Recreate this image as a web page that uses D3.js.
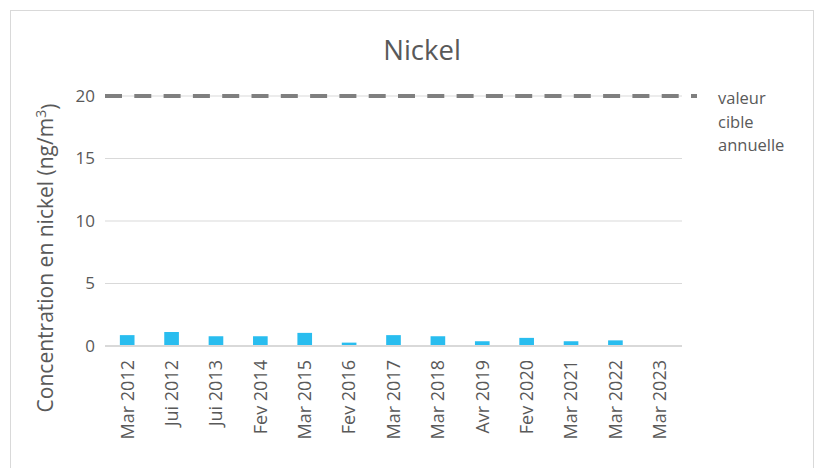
<!DOCTYPE html>
<meta charset="utf-8">
<html lang="fr">
<head>
    <title>Nickel</title>
    <script src="https://d3js.org/d3.v7.min.js"></script>
    <style>
        body { margin: 0; background: #fff; }
        svg text { font-family: "Open Sans", "Noto Sans", sans-serif; fill: #595959; }
    </style>
</head>
<body>
<div id="chart"></div>
<script>
// data
var categories = ["Mar 2012", "Jui 2012", "Jui 2013", "Fev 2014", "Mar 2015", "Fev 2016",
                  "Mar 2017", "Mar 2018", "Avr 2019", "Fev 2020", "Mar 2021", "Mar 2022", "Mar 2023"];
var nickel = [0.87, 1.12, 0.78, 0.78, 1.05, 0.27, 0.87, 0.78, 0.38, 0.65, 0.38, 0.45, null];
var targetValue = [20];
var yTicks = [0, 5, 10, 15, 20];
var legendLines = ["valeur", "cible", "annuelle"];

var W = 826, H = 468;
var margin = {top: 96, right: 144, bottom: 122, left: 105};
var width = W - margin.left - margin.right,   // 577
    height = H - margin.top - margin.bottom;  // 250

var svg = d3.select("#chart").append("svg")
    .attr("width", W).attr("height", H);

// chart border
svg.append("rect")
    .attr("x", 10.5).attr("y", 10.5)
    .attr("width", 803).attr("height", 470)
    .attr("fill", "#fff").attr("stroke", "#d9d9d9");

var g = svg.append("g")
    .attr("transform", "translate(" + margin.left + "," + margin.top + ")");

var x = d3.scaleBand().domain(categories).range([0, width]).paddingInner(0.67).paddingOuter(0.335);
var y = d3.scaleLinear().domain([0, 20]).range([height, 0]);

// gridlines
g.selectAll(".grid").data(yTicks.slice(1)).enter().append("line")
    .attr("x1", 0).attr("x2", width)
    .attr("y1", function(d) { return y(d); }).attr("y2", function(d) { return y(d); })
    .attr("stroke", "#d9d9d9").attr("stroke-width", 1);

// y tick labels
var yAxis = g.append("g").call(d3.axisLeft(y).tickValues(yTicks).tickSize(0).tickPadding(10));
yAxis.select(".domain").remove();
yAxis.selectAll("text").style("font-size", "17px").attr("fill", "#595959");

// bars
g.selectAll(".bar").data(categories.map(function(c, i) { return {c: c, v: nickel[i]}; })
        .filter(function(d) { return d.v != null; }))
    .enter().append("rect")
    .attr("x", function(d) { return x(d.c); })
    .attr("y", function(d) { return y(d.v); })
    .attr("width", x.bandwidth())
    .attr("height", function(d) { return y(0) - y(d.v); })
    .attr("fill", "#29bdef");

// x axis
var xAxis = g.append("g").attr("transform", "translate(0," + height + ")")
    .call(d3.axisBottom(x).tickSize(0).tickPadding(0));
xAxis.select(".domain").attr("stroke", "#d9d9d9").attr("stroke-width", 2)
    .attr("d", "M0,0H" + width);
xAxis.selectAll("text")
    .style("font-size", "18px")
    .attr("fill", "#595959")
    .attr("transform", "rotate(-90)")
    .attr("x", -14).attr("y", 0).attr("dy", "0.35em")
    .style("text-anchor", "end");

// target line (dashed)
g.selectAll(".target").data(targetValue).enter().append("line")
    .attr("x1", 0).attr("x2", width + 15)
    .attr("y1", function(d) { return y(d); }).attr("y2", function(d) { return y(d); })
    .attr("stroke", "#7f7f7f").attr("stroke-width", 4)
    .attr("stroke-dasharray", "17,12.3");

// legend
svg.append("g").selectAll("text").data(legendLines).enter().append("text")
    .attr("x", 718).attr("y", function(d, i) { return 104 + i * 23.5; })
    .style("font-size", "16.5px").attr("fill", "#404040")
    .text(function(d) { return d; });

// title
svg.append("text")
    .attr("x", 422).attr("y", 60)
    .attr("text-anchor", "middle")
    .style("font-size", "27.5px")
    .text("Nickel");

// y axis title
var yt = svg.append("text")
    .attr("transform", "translate(53,258) rotate(-90)")
    .attr("text-anchor", "middle")
    .style("font-size", "21px");
yt.append("tspan").text("Concentration en nickel (ng/m");
yt.append("tspan").attr("dy", "-0.5em").style("font-size", "14px").text("3");
yt.append("tspan").attr("dy", "0.5em").text(")");
</script>
</body>
</html>
